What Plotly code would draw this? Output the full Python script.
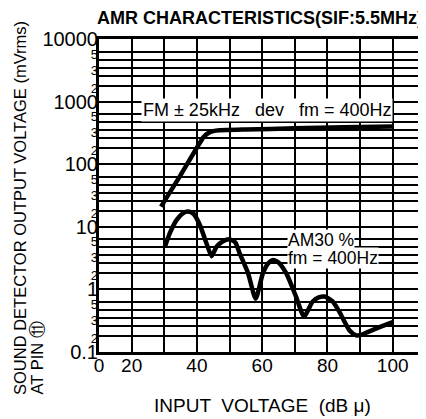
import plotly.graph_objects as go

# ---- data ----
fm_x = [29, 35, 42, 43.5, 45, 47, 55, 70, 85, 100]
fm_y = [21, 67, 270, 315, 338, 348, 358, 375, 390, 400]

am_x = [30.2, 31.7, 33.8, 35.8, 37.3, 39, 40.9, 42.9, 44.5, 46, 48, 50.1, 51.8, 53.1, 55.7, 58,
        60.2, 61.8, 63.3, 65, 67.4, 70.4, 72.8, 75.5, 77.5, 79.1, 81.5, 83.7, 86.8, 88.8, 90.5,
        92.3, 96, 100]
am_y = [4.8, 7.9, 12.9, 16.5, 17.5, 16, 10.7, 5.5, 3.4, 4.8, 5.9, 6.3, 5.6, 3.77, 1.8, 0.71,
        1.8, 2.6, 2.94, 2.7, 1.8, 0.76, 0.37, 0.64, 0.75, 0.77, 0.65, 0.435, 0.22, 0.184, 0.19,
        0.208, 0.25, 0.30]

x_tick_vals = [10, 20, 30, 40, 50, 60, 70, 80, 90, 100, 110]
x_tick_text = ["0", "20", "", "40", "", "60", "", "80", "", "100", ""]

y_decades = [0.1, 1, 10, 100, 1000, 10000]
y_decade_labels = ["0.1", "1", "10", "100", "1000", "10000"]
y_minor_mult = [6.3, 4.7, 3.5, 2.6, 1.8]
y_minor_labels = ["5", "", "3", "", "2"]

FONT = "Liberation Sans, Arial, sans-serif"

# page body has an 8px default margin: compensate so the plot lands where the reference has it
OFF = 8
PL, PT, PB, PR = 99, 39, 352, 426   # plot area in window pixels
W, H = 426, 419

y_vals, y_text = [], []
for d, lab in zip(y_decades, y_decade_labels):
    y_vals.append(d)
    y_text.append(lab)
for d in y_decades[:-1]:
    for m, lab in zip(y_minor_mult, y_minor_labels):
        y_vals.append(d * m)
        y_text.append("<span style='font-size:13px'>%s</span>" % lab if lab else "")

fig = go.Figure()
fig.add_trace(go.Scatter(x=fm_x, y=fm_y, mode="lines",
                         line=dict(color="black", width=4.5, shape="spline", smoothing=0.4),
                         showlegend=False))
fig.add_trace(go.Scatter(x=am_x, y=am_y, mode="lines",
                         line=dict(color="black", width=4.5, shape="spline", smoothing=0.6),
                         showlegend=False))

fig.update_layout(
    width=W, height=H,
    margin=dict(l=PL - OFF, r=W - (PR - OFF), t=PT - OFF, b=H - (PB - OFF), autoexpand=False),
    paper_bgcolor="white", plot_bgcolor="white",
    font=dict(family=FONT, color="black"),
    showlegend=False,
)
fig.update_xaxes(
    range=[10, 110.2], tickvals=x_tick_vals, ticktext=x_tick_text,
    showgrid=True, gridcolor="black", gridwidth=2,
    showline=True, linecolor="black", linewidth=3, mirror=True,
    ticks="", tickfont=dict(size=19, family=FONT), zeroline=False,
    ticklabelstandoff=-6, automargin=False,
)
fig.update_yaxes(
    type="log", range=[-1, 4], tickvals=y_vals, ticktext=y_text,
    showgrid=True, gridcolor="black", gridwidth=2,
    showline=True, linecolor="black", linewidth=3, mirror=False,
    ticks="", tickfont=dict(size=20, family=FONT), zeroline=False,
    ticklabelstandoff=-6, automargin=False,
)

PW = PR - PL
PH = PB - PT

def px_x(p):
    return (p - PL) / PW

def px_y(p):
    return (PB - p) / PH

anns = [
    dict(text="<b>AMR CHARACTERISTICS(SIF:5.5MHz)</b>", x=px_x(95), y=px_y(18),
         xanchor="left", yanchor="middle", font=dict(size=18, family=FONT)),
    dict(text="SOUND DETECTOR OUTPUT VOLTAGE (mVrms)", x=px_x(20), y=px_y(397),
         xanchor="center", yanchor="bottom", textangle=-90, font=dict(size=16.5, family=FONT)),
    dict(text="AT PIN ⑪", x=px_x(36), y=px_y(397),
         xanchor="center", yanchor="bottom", textangle=-90, font=dict(size=16.5, family=FONT)),
    dict(text="INPUT  VOLTAGE  (dB μ)", x=px_x(262), y=px_y(405),
         xanchor="center", yanchor="middle", font=dict(size=19, family=FONT)),
    dict(text="FM ± 25kHz   dev   fm = 400Hz", x=px_x(141), y=px_y(110),
         xanchor="left", yanchor="middle", bgcolor="white", borderpad=1,
         font=dict(size=18, family=FONT)),
    dict(text="AM30 %", x=px_x(287), y=px_y(240),
         xanchor="left", yanchor="middle", bgcolor="white", borderpad=0,
         font=dict(size=17.5, family=FONT)),
    dict(text="fm = 400Hz", x=px_x(287), y=px_y(258),
         xanchor="left", yanchor="middle", bgcolor="white", borderpad=0,
         font=dict(size=17.5, family=FONT)),
]
for a in anns:
    a.update(xref="paper", yref="paper", showarrow=False)
    fig.add_annotation(**a)

fig.write_html("out.html")
